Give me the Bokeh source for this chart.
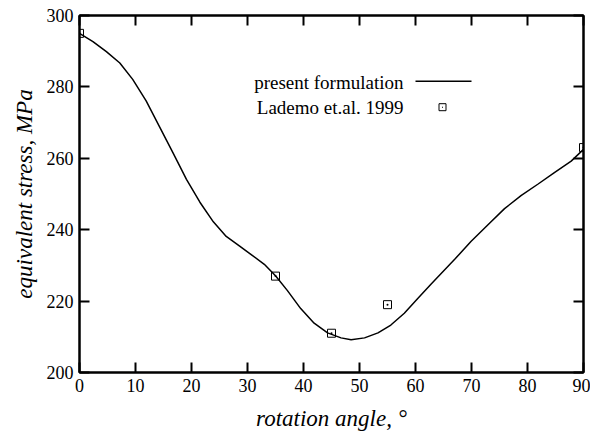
from bokeh.plotting import figure
from bokeh.models import (Range1d, LinearAxis, Label, Arrow, BoxAnnotation, FixedTicker)
from bokeh.embed import file_html
from bokeh.resources import INLINE

# --- data ---
curve_x = [0, 2.4, 4.8, 7.2, 9.5, 11.9, 14.3, 16.7, 19.1, 21.5, 23.9, 26.2, 28.6, 30.6,
           33.0, 35, 37.1, 39.5, 41.9, 44.3, 46.7, 48.5, 50.9, 53.3, 55.6, 58.0, 60.4,
           62.8, 67.0, 69.9, 72.9, 75.9, 78.9, 81.9, 84.8, 87.8, 90]
curve_y = [295, 292.7, 289.9, 286.7, 282.1, 276.1, 268.8, 261.5, 254.1, 247.7, 242.2,
           238.1, 235.4, 233.1, 230.3, 227.1, 223.0, 217.9, 213.8, 211.1, 209.7, 209.2,
           209.7, 211.1, 213.3, 216.6, 220.7, 224.8, 231.7, 236.7, 241.3, 245.9, 249.6,
           252.8, 256.0, 259.2, 262.5]
exp_x = [0, 35, 45, 55, 90]
exp_y = [295, 227, 211, 219, 263]
x_ticks = [0, 10, 20, 30, 40, 50, 60, 70, 80, 90]
y_ticks = [200, 220, 240, 260, 280, 300]

SERIF = "Liberation Serif"

p = figure(width=590, height=433, output_backend="svg", toolbar_location=None,
           x_range=Range1d(0, 90), y_range=Range1d(200, 300),
           min_border_left=79, min_border_right=7, min_border_top=15, min_border_bottom=55)
p.background_fill_color = "white"
p.border_fill_color = "white"
p.outline_line_color = "black"
p.outline_line_width = 2
p.grid.visible = False

def style_axis(ax, ticks, labels=True):
    ax.ticker = FixedTicker(ticks=ticks)
    ax.axis_line_color = "black"
    ax.axis_line_width = 2
    ax.major_tick_in = 10
    ax.major_tick_out = 0
    ax.major_tick_line_width = 2
    ax.minor_tick_line_color = None
    ax.major_label_text_font = SERIF
    ax.major_label_text_color = "black"
    if labels:
        ax.major_label_text_font_size = "18px"
        ax.major_label_standoff = 6
    else:
        ax.major_label_text_font_size = "0px"
        ax.major_label_standoff = 0

style_axis(p.xaxis[0], x_ticks)
style_axis(p.yaxis[0], y_ticks)
for ax in (p.xaxis[0], p.yaxis[0]):
    ax.axis_label_text_font = "serif"
    ax.axis_label_text_font_style = "italic"
    ax.axis_label_text_font_size = "23px"
    ax.axis_label_text_color = "black"
p.xaxis[0].axis_label = "rotation angle, °"
p.xaxis[0].axis_label_standoff = 11
p.yaxis[0].axis_label = "equivalent stress, MPa"
p.yaxis[0].axis_label_standoff = 7

top = LinearAxis()
right = LinearAxis()
style_axis(top, x_ticks, labels=False)
style_axis(right, y_ticks, labels=False)
p.add_layout(top, "above")
p.add_layout(right, "right")

p.line(curve_x, curve_y, line_color="black", line_width=1.5)
p.scatter(exp_x, exp_y, marker="square_dot", size=8, fill_color=None,
          line_color="black", line_width=1)

# legend (gnuplot style: text then sample), frame-relative screen units
l1 = Label(x=324, y=290, x_units="screen", y_units="screen", text="present formulation",
           text_font=SERIF, text_font_size="19px", text_align="right",
           text_baseline="middle", text_color="black")
l2 = Label(x=324, y=265.3, x_units="screen", y_units="screen", text="Lademo et.al. 1999",
           text_font=SERIF, text_font_size="19px", text_align="right",
           text_baseline="middle", text_color="black")
p.add_layout(l1)
p.add_layout(l2)
p.add_layout(Arrow(x_start=336, y_start=291.3, x_end=392, y_end=291.3,
                   start_units="screen", end_units="screen", start=None, end=None,
                   line_color="black", line_width=1.5))
p.add_layout(BoxAnnotation(left=359.5, right=366.5, bottom=261.8, top=268.8,
                           left_units="screen", right_units="screen",
                           bottom_units="screen", top_units="screen",
                           fill_color=None, fill_alpha=0, line_color="black",
                           line_width=1, line_alpha=1))
p.add_layout(BoxAnnotation(left=362.5, right=363.5, bottom=264.8, top=265.8,
                           left_units="screen", right_units="screen",
                           bottom_units="screen", top_units="screen",
                           fill_color="black", fill_alpha=1, line_color=None))

open("out.html", "w").write(file_html(p, INLINE))
